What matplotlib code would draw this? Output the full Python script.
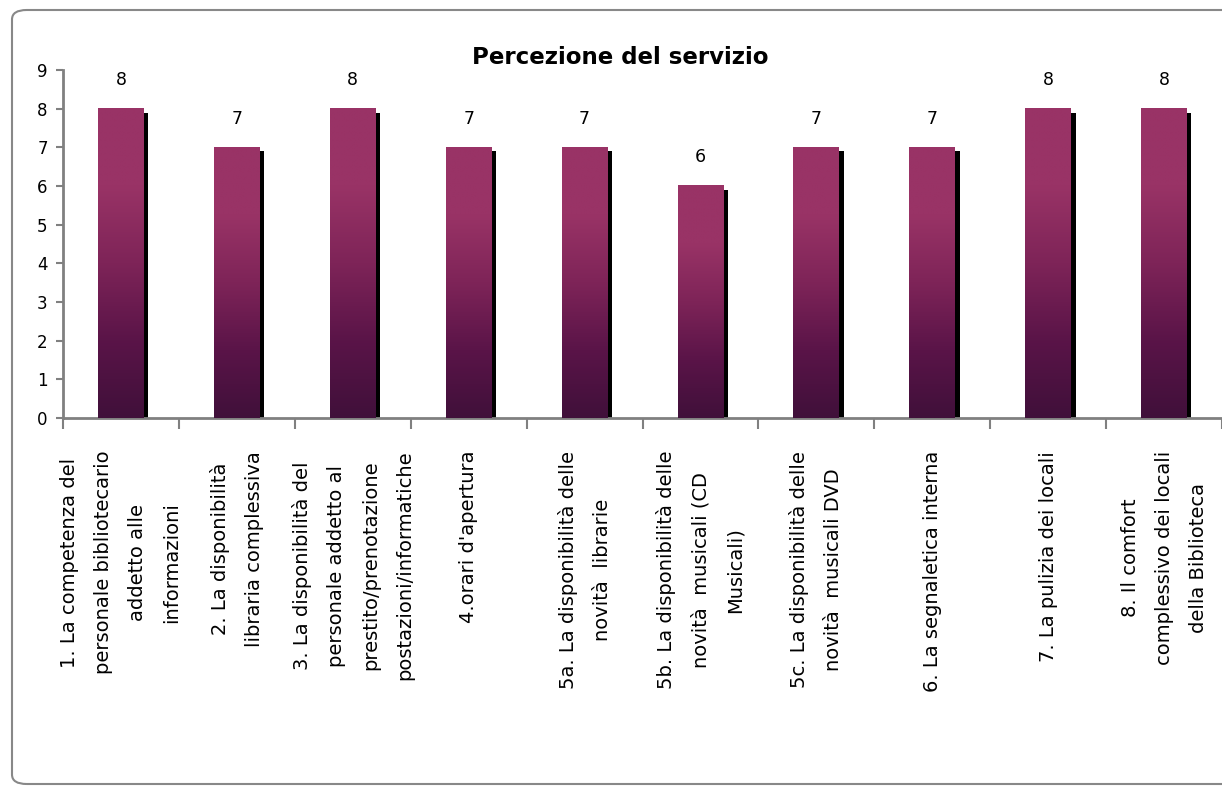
import matplotlib
matplotlib.use("Agg")
import matplotlib.pyplot as plt
import numpy as np
from matplotlib.patches import FancyBboxPatch
from matplotlib.colors import LinearSegmentedColormap

categories = [
    "1. La competenza del\npersonale bibliotecario\naddetto alle\ninformazioni",
    "2. La disponibilità\nlibraria complessiva",
    "3. La disponibilità del\npersonale addetto al\nprestito/prenotazione\npostazioni/informatiche",
    "4.orari d'apertura",
    "5a. La disponibilità delle\nnovità  librarie",
    "5b. La disponibilità delle\nnovità  musicali (CD\nMusicali)",
    "5c. La disponibilità delle\nnovità  musicali DVD",
    "6. La segnaletica interna",
    "7. La pulizia dei locali",
    "8. Il comfort\ncomplessivo dei locali\ndella Biblioteca",
]
values = [8, 7, 8, 7, 7, 6, 7, 7, 8, 8]
title = "Percezione del servizio"
yticks = list(range(0, 10))

W, H = 1222, 790
fig = plt.figure(figsize=(W / 100, H / 100), dpi=100)

left_px, right_px, top_px, bot_px = 63, 1222, 70, 418
ax = fig.add_axes([left_px / W, 1 - bot_px / H, (right_px - left_px) / W, (bot_px - top_px) / H])
ax.set_facecolor("none")

cat_px = 116.65
x0 = -0.5
x1 = x0 + (right_px - left_px) / cat_px
n = len(values)
xs = np.arange(n)
bw = 0.395

cmap = LinearSegmentedColormap.from_list("plum", ["#40103a", "#5a1448", "#7e2458", "#993366", "#993366"])
grad = np.linspace(0, 1, 256).reshape(-1, 1)

dx = 4.5 / cat_px
dy = 4 / 38.67
for x, v in zip(xs, values):
    ax.bar(x + dx, v - dy, width=bw, bottom=0, color="black", zorder=2)
    ax.imshow(grad, extent=[x - bw / 2, x + bw / 2, 0, v], origin="lower",
              cmap=cmap, aspect="auto", zorder=3, interpolation="bilinear")
    ax.text(x, v + 0.74, str(v), ha="center", va="center", fontsize=12.5,
            color="black", zorder=4)

ax.set_xlim(x0, x1)
ax.set_ylim(0, 9)
ax.set_yticks(yticks)
ax.set_yticklabels([str(t) for t in yticks], fontsize=12)
ax.set_xticks(np.arange(-0.5, n, 1.0))
ax.set_xticklabels([])
ax.tick_params(axis="x", direction="out", length=8, width=1.5, color="#808080")
ax.tick_params(axis="y", direction="out", length=5, width=1.5, color="#808080", pad=6)

for s in ["top", "right"]:
    ax.spines[s].set_visible(False)
for s in ["left", "bottom"]:
    ax.spines[s].set_color("#808080")
    ax.spines[s].set_linewidth(2)

for x, lab in zip(xs, categories):
    ax.text(x, -0.85, lab, rotation=90, ha="center", va="top",
            multialignment="center", fontsize=14, linespacing=2.0,
            transform=ax.transData, clip_on=False)

fig.text(620 / W, 1 - 57 / H, title, ha="center", va="center",
         fontsize=16.5, fontweight="bold")

# outer rounded border
border = FancyBboxPatch((12 / W, 6 / H), (1240 - 12) / W, (780 - 6) / H,
                        boxstyle="round,pad=0,rounding_size=0.012",
                        transform=fig.transFigure, facecolor="none",
                        edgecolor="#888888", linewidth=1.5, zorder=10)
fig.patches.append(border)

fig.savefig("out.png", dpi=100)
